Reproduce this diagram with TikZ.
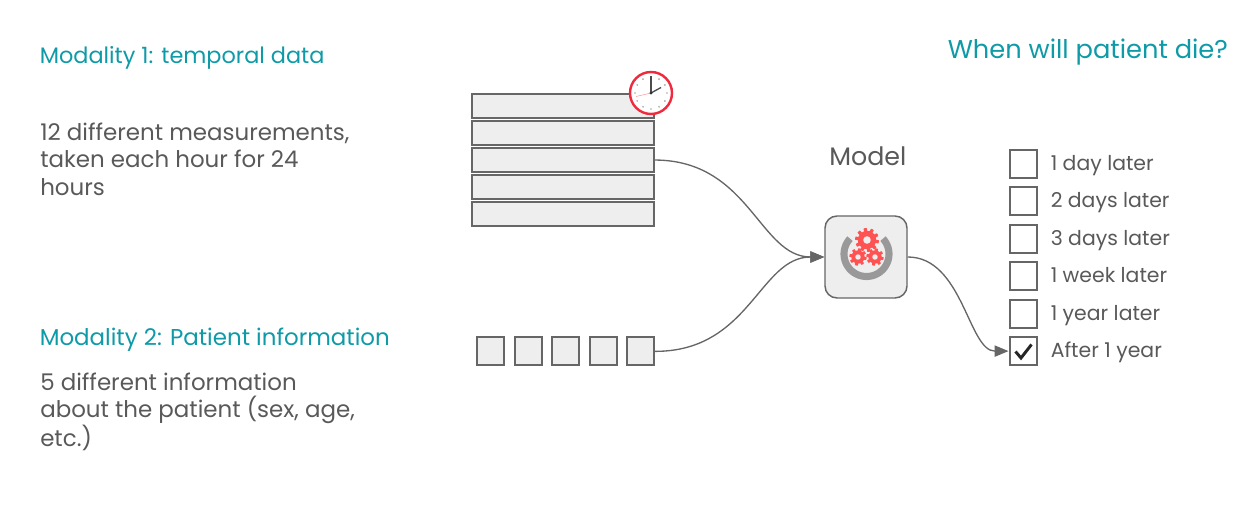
\documentclass[tikz,border=0pt]{standalone}
\usepackage{fontspec}
\setmainfont{Poppins}
\usetikzlibrary{arrows.meta}
\definecolor{teal1}{HTML}{0E9AA7}
\definecolor{txt}{HTML}{595959}
\definecolor{boxfill}{HTML}{EEEEEE}
\definecolor{boxline}{HTML}{666666}
\definecolor{gearred}{HTML}{FF5252}
\definecolor{clockred}{HTML}{EE2A3C}
\newcommand{\gearshape}[4]{%
  \fill[gearred] plot[domain=0:360,samples=241,smooth cycle] ({#1+(#3*(1+0.14*tanh(6*sin(#4*\x))))*cos(\x)},{#2+(#3*(1+0.14*tanh(6*sin(#4*\x))))*sin(\x)});
  \fill[boxfill] (#1,#2) circle[radius=#3*0.36];
}
\tikzset{
  x=0.75pt,y=-0.75pt,
  title/.style={inner sep=0,text=teal1,anchor=base west},
  body/.style={inner sep=0,text=txt,align=left,font=\fontsize{17.2pt}{20.6pt}\selectfont},
  optlabel/.style={inner sep=0,anchor=base west,text=txt,font=\fontsize{15.3pt}{18pt}\selectfont},
  rowbox/.style={draw=boxline,fill=boxfill,line width=1.5pt,inner sep=0,anchor=north west,minimum width=136.5pt,minimum height=17.3pt},
  sqbox/.style={draw=boxline,fill=boxfill,line width=1.5pt,inner sep=0,anchor=north west,minimum width=20.8pt,minimum height=20.8pt},
  chk/.style={draw=boxline,fill=white,line width=1.5pt,inner sep=0,anchor=north west,minimum width=20.6pt,minimum height=20.4pt},
  link/.style={draw=boxline,line width=1pt,-{Triangle[length=10.5pt,width=8.5pt]}},
}
\begin{document}
\begin{tikzpicture}
\useasboundingbox (0,0) rectangle (1257,513);
\node[title,font=\fontsize{16.8pt}{20pt}\selectfont] (t1) at (39.5,64) {Modality 1: temporal data};
\node[title,font=\fontsize{17.2pt}{20pt}\selectfont] (t2) at (39.5,346) {Modality 2: Patient information};
\node[title,font=\fontsize{19.3pt}{22pt}\selectfont] (q) at (947.5,59) {When will patient die?};
\node[body,anchor=north west] (d1) at (40,122.5) {12 different measurements,\\taken each hour for 24\\hours};
\node[body,anchor=north west] (d2) at (40,372.5) {5 different information\\about the patient (sex, age,\\etc.)};
\node[inner sep=0,anchor=base west,text=txt,font=\fontsize{19pt}{22pt}\selectfont] (mt) at (829,166) {Model};
% rows
\node[rowbox] (r1) at (470.5,93.5) {};
\node[rowbox] (r2) at (470.5,120.5) {};
\node[rowbox] (r3) at (470.5,147.5) {};
\node[rowbox] (r4) at (470.5,174.5) {};
\node[rowbox] (r5) at (470.5,201.5) {};
% squares
\node[sqbox] (s1) at (475.5,336.5) {};
\node[sqbox] (s2) at (513.5,336.5) {};
\node[sqbox] (s3) at (550.5,336.5) {};
\node[sqbox] (s4) at (588.5,336.5) {};
\node[sqbox] (s5) at (625.5,336.5) {};
% clock
\node[circle,draw=clockred,fill=white,line width=1.8pt,minimum size=31.5pt,inner sep=0] (clock) at (651,93) {};
\foreach \a in {0,30,...,330}
  \fill[gray!70] ({651+16*cos(\a)},{93+16*sin(\a)}) circle[radius=0.9];
\draw[red!40,line width=0.4pt] (651,93) -- (636,96.5);
\draw[gray!60!black,line width=1pt] (651,93) -- (651,76);
\draw[gray!60!black,line width=1pt] (651,93) -- (661,87.5);
\fill[gray!40!black] (651,93) circle[radius=1.6];
% model
\node[draw=boxline,fill=boxfill,line width=1.1pt,rounded corners=9pt,minimum size=61.5pt,inner sep=0] (model) at (866,257) {};
\draw[color=black!40,line width=5.3pt] plot[domain=137:403,samples=60] ({866.5+22.5*cos(\x)},{254-22.5*sin(\x)});
\gearshape{867}{240}{10.5}{10}
\gearshape{858}{257}{7.6}{8}
\gearshape{875}{257}{7.6}{8}
% checkboxes
\node[chk] (c1) at (1008.5,149.5) {};
\node[chk] (c2) at (1008.5,186.5) {};
\node[chk] (c3) at (1008.5,224.5) {};
\node[chk] (c4) at (1008.5,261.5) {};
\node[chk] (c5) at (1008.5,299.5) {};
\node[chk] (c6) at (1008.5,336.5) {};
\draw[black!85,line width=2.2pt] (1015.5,351.5) -- (1021,358) -- (1031.5,344.5);
\node[optlabel] (l1) at (1050.5,171) {1 day later};
\node[optlabel] (l2) at (1050.5,208) {2 days later};
\node[optlabel] (l3) at (1050.5,246) {3 days later};
\node[optlabel] (l4) at (1050.5,283) {1 week later};
\node[optlabel] (l5) at (1050.5,321) {1 year later};
\node[optlabel] (l6) at (1050.5,358) {After 1 year};
% connectors
\draw[link] (r3.east) .. controls +(95,0) and +(-65,0) .. (model.west);
\draw[link] (s5.east) .. controls +(95,0) and +(-65,0) .. (model.west);
\draw[link] (model.east) .. controls +(55,0) and +(-40,0) .. (c6.west);
\end{tikzpicture}
\end{document}
